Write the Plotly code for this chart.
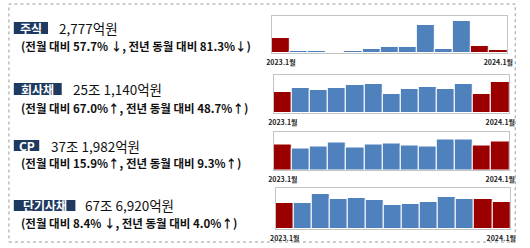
import plotly.graph_objects as go

W, H = 530, 248

months = ["2023.1", "2023.2", "2023.3", "2023.4", "2023.5", "2023.6", "2023.7",
          "2023.8", "2023.9", "2023.10", "2023.11", "2023.12", "2024.1"]
first_label = "2023.1월"
last_label = "2024.1월"

# values in 억원
stocks = [14850, 2000, 2000, 600, 2300, 3600, 6300, 5600, 28700, 3600, 32700, 6565, 2777]
bonds = [168900, 200900, 187700, 203500, 224700, 235300, 153300, 193000, 211500, 190300, 232600, 150400, 251140]
cp = [340300, 287900, 310000, 363100, 296700, 341000, 349800, 318900, 314400, 407400, 403000, 320900, 371982]
stb = [650900, 635600, 866800, 751200, 767700, 718200, 586100, 627400, 668700, 784200, 734700, 739000, 676920]

highlight = [True, False, False, False, False, False, False, False, False, False, False, True, True]

names = ["주식", "회사채", "CP", "단기사채"]
amounts = ["2,777억원", "25조 1,140억원", "37조 1,982억원", "67조 6,920억원"]
changes = ["(전월 대비 57.7% ↓, 전년 동월 대비 81.3%↓)",
           "(전월 대비 67.0%↑, 전년 동월 대비 48.7%↑)",
           "(전월 대비 15.9%↑, 전년 동월 대비 9.3%↑)",
           "(전월 대비 8.4% ↓, 전년 동월 대비 4.0%↑)"]
series = [stocks, bonds, cp, stb]
y_max = [37300, 304000, 509000, 1015000]

# layout in pixels
chart_boxes = [(272, 513, 16, 53), (274, 515, 75, 113), (274, 515, 131.5, 170), (276, 516, 188, 229)]
label_boxes = [(8, 43, 22, 34), (8, 57, 83, 95), (8, 34, 140, 151), (8, 71, 200, 211)]
amount_pos = [(52, 28.5), (66, 89), (44, 145.5), (79, 204.5)]
change_pos = [(13, 45.5), (13, 107.5), (13, 162.5), (13, 222.5)]

BLUE = "#4f81bd"
RED = "#9b0000"
NAVY = "#1f3a60"
FONT = "Noto Sans CJK KR"

def px(x):
    return x / W

def py(y):
    return 1 - y / H

fig = go.Figure()
layout = dict(width=W, height=H, margin=dict(l=0, r=0, t=0, b=0),
              paper_bgcolor="white", plot_bgcolor="white", showlegend=False,
              bargap=0, font=dict(family=FONT))
shapes = []
annotations = []

for i, vals in enumerate(series):
    n = "" if i == 0 else str(i + 1)
    colors = [RED if h else BLUE for h in highlight]
    fig.add_trace(go.Bar(x=months, y=vals, marker=dict(color=colors, line=dict(color="white", width=1)),
                         xaxis="x" + n, yaxis="y" + n, hoverinfo="skip"))
    x0, x1, y0, y1 = chart_boxes[i]
    layout["xaxis" + n] = dict(domain=[px(x0), px(x1)], anchor="y" + n,
                               showline=True, mirror=True, linecolor="#c4c4c4", linewidth=1,
                               showgrid=False, zeroline=False,
                               tickmode="array", tickvals=[months[0], months[-1]],
                               ticktext=["<b>" + first_label + "</b>", "<b>" + last_label + "</b>"],
                               ticks="outside", ticklen=3, tickcolor="rgba(0,0,0,0)",
                               tickfont=dict(size=7, color="#222222", family=FONT))
    layout["yaxis" + n] = dict(domain=[py(y1), py(y0)], anchor="x" + n, range=[0, y_max[i]],
                               showline=True, mirror=True, linecolor="#c4c4c4", linewidth=1,
                               showgrid=False, zeroline=False, showticklabels=False, ticks="")

    bx0, bx1, by0, by1 = label_boxes[i]
    shapes.append(dict(type="rect", xref="paper", yref="paper", x0=px(bx0), x1=px(bx1),
                       y0=py(by1), y1=py(by0), fillcolor=NAVY, line=dict(width=0)))
    annotations.append(dict(x=px((bx0 + bx1) / 2), y=py((by0 + by1) / 2), xref="paper", yref="paper",
                            text="<b>" + names[i] + "</b>", showarrow=False, xanchor="center", yanchor="middle",
                            font=dict(size=12, color="white", family=FONT)))
    ax, ay = amount_pos[i]
    annotations.append(dict(x=px(ax), y=py(ay), xref="paper", yref="paper", text=amounts[i],
                            showarrow=False, xanchor="left", yanchor="middle",
                            font=dict(size=13.5, color="#111111", family=FONT)))
    cx, cy = change_pos[i]
    annotations.append(dict(x=px(cx), y=py(cy), xref="paper", yref="paper", text="<b>" + changes[i] + "</b>",
                            showarrow=False, xanchor="left", yanchor="middle",
                            font=dict(size=11.5, color="#111111", family=FONT)))

# outer dashed frame
shapes.append(dict(type="rect", xref="paper", yref="paper", x0=px(3), x1=px(521), y0=py(242), y1=py(4),
                   line=dict(color="#9a9a9a", width=1, dash="dot"), fillcolor="rgba(0,0,0,0)"))

layout["shapes"] = shapes
layout["annotations"] = annotations
fig.update_layout(**layout)
fig.write_html("out.html")
